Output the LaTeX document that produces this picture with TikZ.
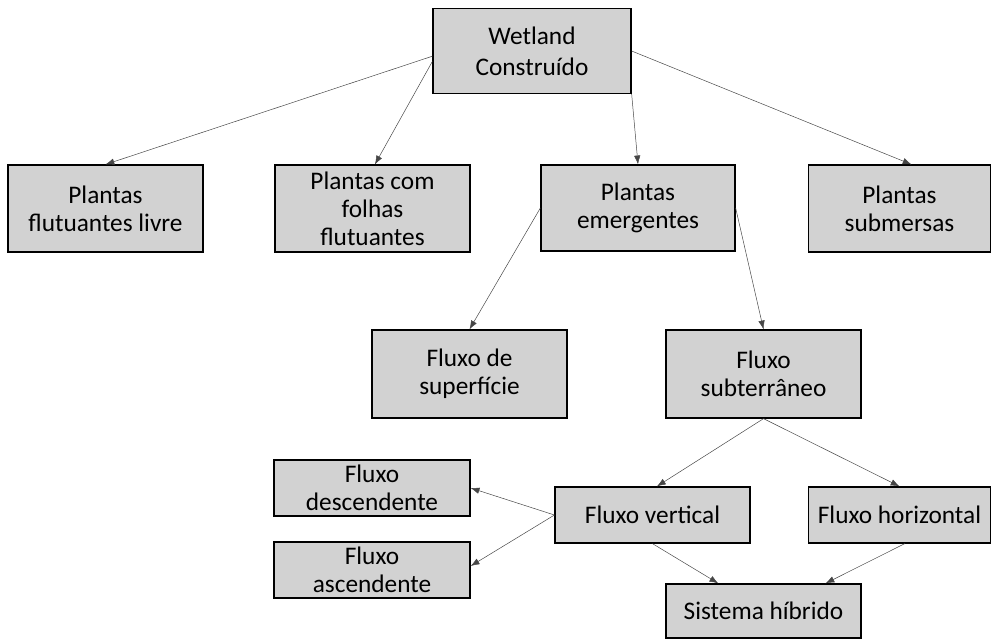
\documentclass[tikz,border=0pt]{standalone}
\usepackage{fontspec}
\setmainfont{Carlito}
\usetikzlibrary{arrows.meta,positioning}
\definecolor{boxgray}{RGB}{210,210,210}
\definecolor{linegray}{RGB}{70,70,70}

\begin{document}
\begin{tikzpicture}[x=0.025cm, y=-0.025cm,
  every node/.style={font=\fontsize{18}{20}\selectfont},
  caixa/.style={draw=black, line width=0.9pt, fill=boxgray, align=center, inner sep=0pt},
  seta/.style={-{Latex[length=2.2mm,width=1.6mm]}, line width=0.35pt, linegray}]
\useasboundingbox (0,0) rectangle (993,638);
% nivel 1
\node[caixa, minimum width=4.95cm, minimum height=2.12cm] (wet) at (532,51) {Wetland\\[0.8mm]Construído};
% nivel 2
\node[caixa, minimum width=4.87cm, minimum height=2.17cm] (liv) at (105.5,208.5) {Plantas\\flutuantes livre};
\node[caixa, minimum width=4.87cm, minimum height=2.17cm] (fol) at (372.5,208.5) {Plantas com\\folhas\\flutuantes};
\node[caixa, minimum width=4.85cm, minimum height=2.15cm] (emg) at (638,208) {Plantas\\emergentes};
\node[caixa, minimum width=4.55cm, minimum height=2.17cm] (smb) at (899.5,208.5) {Plantas\\submersas};
% nivel 3
\node[caixa, minimum width=4.87cm, minimum height=2.2cm] (sup) at (469.5,374) {Fluxo de\\superfície};
\node[caixa, minimum width=4.87cm, minimum height=2.2cm] (sub) at (763.5,374) {Fluxo\\subterrâneo};
% nivel 4
\node[caixa, minimum width=4.9cm, minimum height=1.4cm] (desc) at (372,488) {Fluxo\\descendente};
\node[caixa, minimum width=4.9cm, minimum height=1.4cm] (asc) at (372,570) {Fluxo\\ascendente};
\node[caixa, minimum width=4.87cm, minimum height=1.4cm] (vert) at (652.5,515) {Fluxo vertical};
\node[caixa, minimum width=4.55cm, minimum height=1.4cm] (hor) at (899.5,515) {Fluxo horizontal};
\node[caixa, minimum width=4.87cm, minimum height=1.35cm] (hib) at (763.5,611) {Sistema híbrido};
% ligacoes
\draw[seta] (wet.183) -- (liv.north);
\draw[seta] (wet.186) -- ([xshift=0.06cm]fol.north);
\draw[seta] (wet.south east) -- (emg.north);
\draw[seta] (wet.east) -- ([xshift=0.3cm]smb.north);
\draw[seta] (emg.west) -- (sup.north);
\draw[seta] (emg.east) -- (sub.north);
\draw[seta] (sub.south) -- ([xshift=0.11cm]vert.north);
\draw[seta] (sub.south) -- (hor.north);
\draw[seta] (vert.west) -- (desc.east);
\draw[seta] (vert.west) -- ([yshift=0.1cm]asc.east);
\draw[seta] (vert.south) -- ([xshift=-1.13cm]hib.north);
\draw[seta] ([xshift=0.13cm]hor.south) -- ([xshift=1.55cm]hib.north);
\end{tikzpicture}
\end{document}
